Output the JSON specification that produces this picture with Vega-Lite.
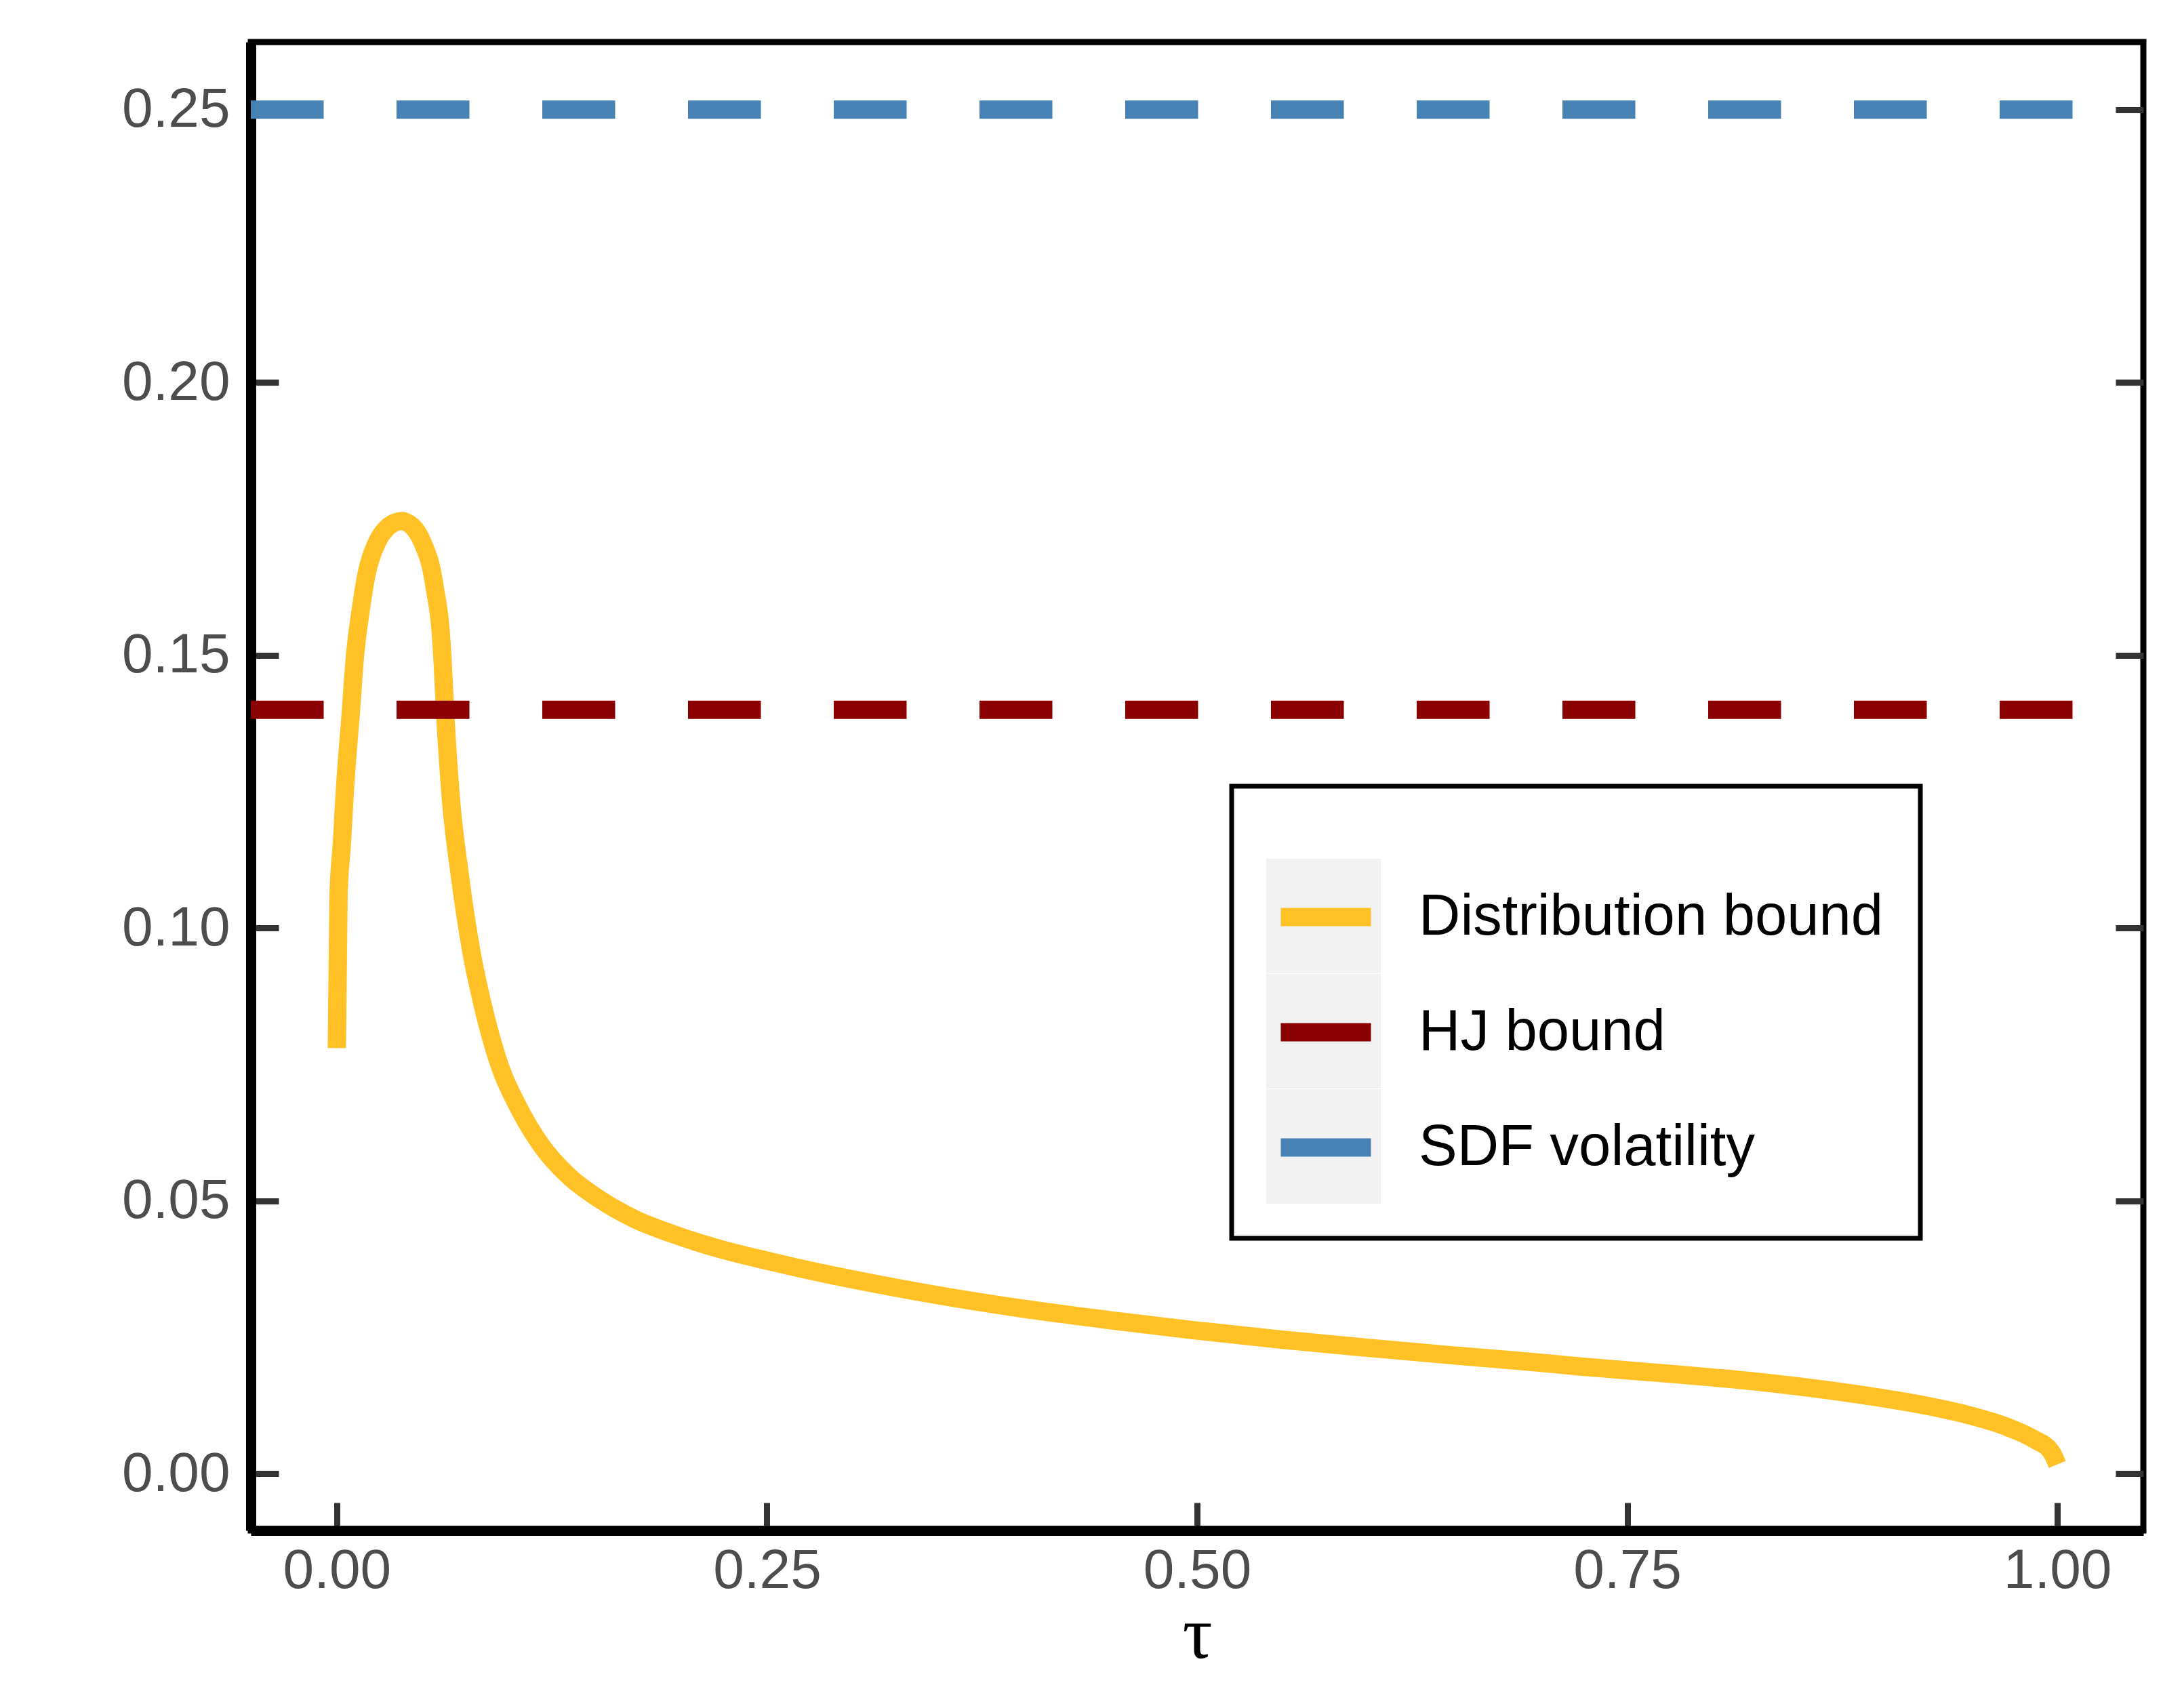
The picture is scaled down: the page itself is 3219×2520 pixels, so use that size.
{
  "$schema": "https://vega.github.io/schema/vega-lite/v6.json",
  "width": 2792,
  "height": 2196,
  "autosize": {"type": "none"},
  "padding": {"left": 370, "top": 62, "right": 57, "bottom": 262},
  "background": "white",
  "config": {
    "font": "Liberation Sans",
    "view": {"stroke": "black", "strokeWidth": 9},
    "axis": {"grid": false, "zindex": 1}
  },
  "datasets": {
    "bound": [
      {"tau": 0, "value": 0.078, "series": "Distribution bound"},
      {"tau": 0.001, "value": 0.106, "series": "Distribution bound"},
      {"tau": 0.003, "value": 0.1158, "series": "Distribution bound"},
      {"tau": 0.0047, "value": 0.1253, "series": "Distribution bound"},
      {"tau": 0.0081, "value": 0.1394, "series": "Distribution bound"},
      {"tau": 0.0106, "value": 0.15, "series": "Distribution bound"},
      {"tau": 0.0139, "value": 0.1583, "series": "Distribution bound"},
      {"tau": 0.0173, "value": 0.1649, "series": "Distribution bound"},
      {"tau": 0.0232, "value": 0.1706, "series": "Distribution bound"},
      {"tau": 0.0293, "value": 0.1734, "series": "Distribution bound"},
      {"tau": 0.0335, "value": 0.1743, "series": "Distribution bound"},
      {"tau": 0.0376, "value": 0.1746, "series": "Distribution bound"},
      {"tau": 0.0415, "value": 0.1742, "series": "Distribution bound"},
      {"tau": 0.0452, "value": 0.1732, "series": "Distribution bound"},
      {"tau": 0.0499, "value": 0.1706, "series": "Distribution bound"},
      {"tau": 0.0566, "value": 0.163, "series": "Distribution bound"},
      {"tau": 0.0613, "value": 0.15, "series": "Distribution bound"},
      {"tau": 0.0629, "value": 0.1398, "series": "Distribution bound"},
      {"tau": 0.0662, "value": 0.1241, "series": "Distribution bound"},
      {"tau": 0.0714, "value": 0.1099, "series": "Distribution bound"},
      {"tau": 0.0782, "value": 0.0957, "series": "Distribution bound"},
      {"tau": 0.0854, "value": 0.0851, "series": "Distribution bound"},
      {"tau": 0.0951, "value": 0.0744, "series": "Distribution bound"},
      {"tau": 0.1053, "value": 0.0673, "series": "Distribution bound"},
      {"tau": 0.1188, "value": 0.0602, "series": "Distribution bound"},
      {"tau": 0.1346, "value": 0.0546, "series": "Distribution bound"},
      {"tau": 0.1527, "value": 0.0503, "series": "Distribution bound"},
      {"tau": 0.1729, "value": 0.0467, "series": "Distribution bound"},
      {"tau": 0.1955, "value": 0.0439, "series": "Distribution bound"},
      {"tau": 0.2248, "value": 0.041, "series": "Distribution bound"},
      {"tau": 0.2519, "value": 0.0389, "series": "Distribution bound"},
      {"tau": 0.2812, "value": 0.0368, "series": "Distribution bound"},
      {"tau": 0.30, "value": 0.0356, "series": "Distribution bound"},
      {"tau": 0.3476, "value": 0.0328, "series": "Distribution bound"},
      {"tau": 0.3977, "value": 0.0303, "series": "Distribution bound"},
      {"tau": 0.4478, "value": 0.0282, "series": "Distribution bound"},
      {"tau": 0.4979, "value": 0.0263, "series": "Distribution bound"},
      {"tau": 0.548, "value": 0.0246, "series": "Distribution bound"},
      {"tau": 0.5982, "value": 0.0231, "series": "Distribution bound"},
      {"tau": 0.6483, "value": 0.0217, "series": "Distribution bound"},
      {"tau": 0.6904, "value": 0.0206, "series": "Distribution bound"},
      {"tau": 0.7209, "value": 0.0197, "series": "Distribution bound"},
      {"tau": 0.771, "value": 0.0184, "series": "Distribution bound"},
      {"tau": 0.8211, "value": 0.017, "series": "Distribution bound"},
      {"tau": 0.8712, "value": 0.0151, "series": "Distribution bound"},
      {"tau": 0.9214, "value": 0.0126, "series": "Distribution bound"},
      {"tau": 0.9464, "value": 0.0109, "series": "Distribution bound"},
      {"tau": 0.9714, "value": 0.0085, "series": "Distribution bound"},
      {"tau": 0.9865, "value": 0.0063, "series": "Distribution bound"},
      {"tau": 0.9965, "value": 0.004, "series": "Distribution bound"},
      {"tau": 1.0, "value": 0.0017, "series": "Distribution bound"}
    ],
    "levels": [
      {"value": 0.14, "series": "HJ bound"},
      {"value": 0.25, "series": "SDF volatility"}
    ]
  },
  "resolve": {"axis": {"y": "independent"}},
  "layer": [
    {
      "data": {"name": "bound"},
      "mark": {"type": "line", "strokeWidth": 27, "strokeJoin": "round", "strokeCap": "butt", "interpolate": "monotone"},
      "encoding": {
        "x": {
          "field": "tau",
          "type": "quantitative",
          "scale": {"domain": [-0.05, 1.05], "nice": false, "zero": false},
          "axis": {
            "values": [0, 0.25, 0.5, 0.75, 1],
            "format": ".2f",
            "tickSize": -41,
            "tickWidth": 9,
            "tickColor": "#333333",
            "labelColor": "#4D4D4D",
            "labelFontSize": 82,
            "labelPadding": 60,
            "domainColor": "black",
            "domainWidth": 15,
            "title": "τ",
            "titleFont": "Liberation Serif",
            "titleFontSize": 110,
            "titleFontWeight": "normal",
            "titleColor": "black",
            "titlePadding": 0
          }
        },
        "y": {
          "field": "value",
          "type": "quantitative",
          "scale": {"domain": [-0.0104, 0.2624], "nice": false, "zero": false},
          "axis": {
            "orient": "left",
            "values": [0, 0.05, 0.1, 0.15, 0.2, 0.25],
            "format": ".2f",
            "tickSize": -41,
            "tickWidth": 9,
            "tickColor": "#333333",
            "labelColor": "#4D4D4D",
            "labelFontSize": 82,
            "labelPadding": 72,
            "domainColor": "black",
            "domainWidth": 15,
            "title": null
          }
        },
        "color": {
          "field": "series",
          "type": "nominal",
          "scale": {
            "domain": ["Distribution bound", "HJ bound", "SDF volatility"],
            "range": ["#FFC125", "#8B0000", "#4682B4"]
          },
          "legend": {
            "orient": "none",
            "legendX": 1431,
            "legendY": 1098,
            "direction": "vertical",
            "padding": 75,
            "strokeColor": "transparent",
            "fillColor": "transparent",
            "title": " ",
            "titleFontSize": 20,
            "titlePadding": 18,
            "symbolType": "stroke",
            "symbolSize": 17689,
            "symbolStrokeWidth": 18,
            "labelFontSize": 85,
            "labelColor": "black",
            "labelOffset": 57,
            "labelLimit": 2000,
            "rowPadding": 36,
            "zindex": 2,
            "encode": {
              "symbols": {
                "update": {
                  "strokeDash": {"value": [1, 0]},
                  "strokeWidth": {"value": 27},
                  "strokeCap": {"value": "butt"},
                  "opacity": {"value": 1}
                }
              }
            }
          }
        },
        "opacity": {
          "field": "series",
          "type": "ordinal",
          "scale": {"range": [1, 1]},
          "legend": {
            "orient": "none",
            "legendX": 1447,
            "legendY": 1098,
            "direction": "vertical",
            "padding": 51,
            "strokeColor": "black",
            "fillColor": "white",
            "title": " ",
            "titleFontSize": 40,
            "titlePadding": 16,
            "symbolType": "square",
            "symbolSize": 28561,
            "symbolStrokeWidth": 0,
            "labelExpr": "''",
            "labelFontSize": 10,
            "labelOffset": 745,
            "rowPadding": 1,
            "zindex": 1,
            "encode": {
              "legend": {"update": {"strokeWidth": {"value": 7}}},
              "symbols": {
                "update": {
                  "fill": {"value": "#F2F2F2"},
                  "stroke": {"value": "#F2F2F2"},
                  "strokeWidth": {"value": 0},
                  "opacity": {"value": 1}
                }
              }
            }
          }
        }
      }
    },
    {
      "data": {"name": "levels"},
      "mark": {"type": "rule", "strokeWidth": 27, "strokeDash": [107.5, 107.5], "strokeDashOffset": 110.5, "strokeCap": "butt"},
      "encoding": {
        "y": {
          "field": "value",
          "type": "quantitative",
          "scale": {"domain": [-0.0104, 0.2624], "nice": false, "zero": false},
          "axis": {
            "orient": "right",
            "values": [0, 0.05, 0.1, 0.15, 0.2, 0.25],
            "labels": false,
            "domain": false,
            "tickSize": -41,
            "tickWidth": 9,
            "tickColor": "#333333",
            "title": null
          }
        },
        "color": {"field": "series", "type": "nominal"},
        "opacity": {"field": "series", "type": "ordinal"}
      }
    }
  ]
}
